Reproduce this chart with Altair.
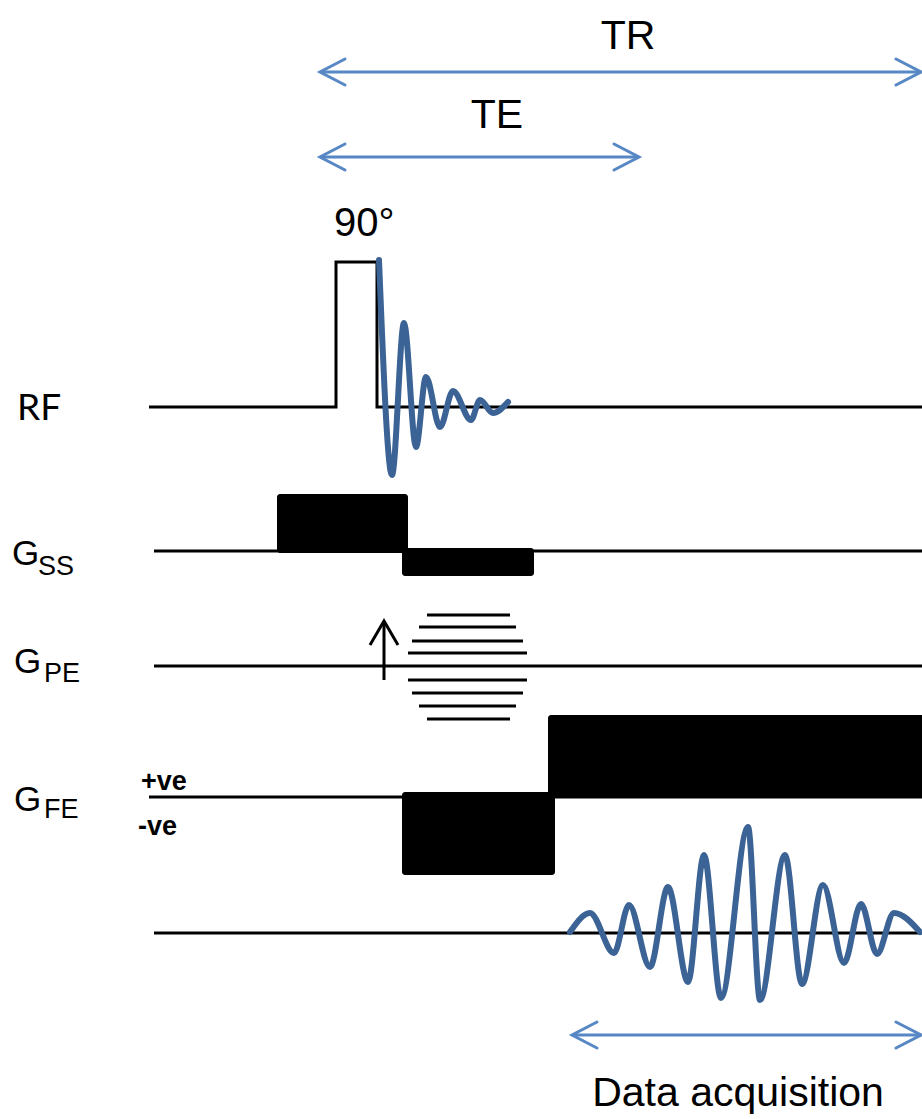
import altair as alt
import pandas as pd

W, H = 922, 1119

# ---- layout units (x = time along the sequence, y = row position, top-down) ----
xs = alt.Scale(domain=[0, W], nice=False, zero=False)
ys = alt.Scale(domain=[0, H], nice=False, zero=False, reverse=True)

# Channel baselines (gradient rows and the signal row)
base_name = ["GSS", "GPE", "GFE", "SIG"]
base_y = [551, 666, 797, 933]
base_x0 = [154, 154, 149, 154]
base_x1 = [922, 922, 922, 922]

# RF row: baseline with the 90° block pulse
rf_y = 407
rf_x0, rf_x1 = 149, 922
rf_pulse_start, rf_pulse_end, rf_pulse_top = 336, 377, 262

# Gradient lobes (filled blocks)
lobe_name = ["ss_pos", "ss_neg", "fe_neg", "fe_pos"]
lobe_x0 = [277, 402, 402, 548]
lobe_x1 = [408, 534, 555, 926]
lobe_top = [494, 548, 792, 715]
lobe_bot = [553, 576, 875, 798]

# Phase-encode table steps
pe_y = [615, 627, 641, 653, 680, 693, 706, 719]
pe_x0 = [427, 419, 412, 408, 408, 412, 419, 427]
pe_x1 = [510, 516, 523, 527, 527, 523, 516, 510]

# Phase-encode stepping arrow
pe_arrow_x, pe_arrow_y0, pe_arrow_tip = 384, 680, 621
pe_head_dx, pe_head_dy = 14, 24

# Free induction decay after the pulse (turning points)
fid_x = [379, 392, 404, 416, 426, 440, 453, 471, 480, 493, 508]
fid_y = [260, 475, 323, 447, 377, 427, 391, 420, 400, 413, 402]

# Gradient echo read during acquisition (turning points)
echo_x = [570, 590, 614, 629, 650, 668, 688, 704, 721, 748, 760,
          785, 802, 823, 844, 861, 877, 894, 920]
echo_y = [932, 913, 953, 905, 967, 887, 982, 855, 998, 827, 1000,
          855, 984, 885, 963, 904, 954, 913, 932]

# Timing spans (double-headed arrows)
span_name = ["TR", "TE", "Data acquisition"]
span_x0 = [320, 320, 572]
span_x1 = [921, 639, 921]
span_y = [72, 157, 1035]
head_dx, head_dy = 25, 13

BLACK = "#000000"
WAVE = "#3b6395"
SPAN = "#5787c4"
FONT = "Liberation Sans"

# ---- tables ----
rules = pd.DataFrame({"name": base_name, "y": base_y, "x0": base_x0, "x1": base_x1})

rf_px = [rf_x0, rf_pulse_start, rf_pulse_start, rf_pulse_end, rf_pulse_end, rf_x1]
rf_py = [rf_y, rf_y, rf_pulse_top, rf_pulse_top, rf_y, rf_y]
rf = pd.DataFrame({"x": rf_px, "y": rf_py, "i": range(len(rf_px))})

lobes = pd.DataFrame({"name": lobe_name, "x0": lobe_x0, "x1": lobe_x1,
                      "y0": lobe_top, "y1": lobe_bot})

pe = pd.DataFrame({"y": pe_y, "x0": pe_x0, "x1": pe_x1})

pe_shaft = pd.DataFrame({"x": [pe_arrow_x], "y0": [pe_arrow_y0], "y1": [pe_arrow_tip]})
pe_head = pd.DataFrame({
    "x": [pe_arrow_x - pe_head_dx, pe_arrow_x, pe_arrow_x + pe_head_dx],
    "y": [pe_arrow_tip + pe_head_dy, pe_arrow_tip, pe_arrow_tip + pe_head_dy],
    "i": [0, 1, 2],
})

fid = pd.DataFrame({"x": fid_x, "y": fid_y, "i": range(len(fid_x))})
echo = pd.DataFrame({"x": echo_x, "y": echo_y, "i": range(len(echo_x))})

spans = pd.DataFrame({"name": span_name, "x0": span_x0, "x1": span_x1, "y": span_y})
heads = []
for n, a, b, y in zip(span_name, span_x0, span_x1, span_y):
    for side, tip, d in (("L", a, head_dx), ("R", b, -head_dx)):
        for i, (hx, hy) in enumerate([(tip + d, y - head_dy), (tip, y), (tip + d, y + head_dy)]):
            heads.append({"key": f"{n}-{side}", "i": i, "x": hx, "y": hy})
heads = pd.DataFrame(heads)

# ---- marks ----
def X(f="x"):
    return alt.X(f"{f}:Q", scale=xs, axis=None)

def Y(f="y"):
    return alt.Y(f"{f}:Q", scale=ys, axis=None)

base_layer = alt.Chart(rules).mark_rule(color=BLACK, strokeWidth=3).encode(
    x=X("x0"), x2="x1:Q", y=Y("y"))

rf_layer = alt.Chart(rf).mark_line(color=BLACK, strokeWidth=3, strokeJoin="miter").encode(
    x=X(), y=Y(), order="i:Q")

lobe_layer = alt.Chart(lobes).mark_rect(color=BLACK, cornerRadius=3).encode(
    x=X("x0"), x2="x1:Q", y=Y("y0"), y2="y1:Q")

pe_layer = alt.Chart(pe).mark_rule(color=BLACK, strokeWidth=3).encode(
    x=X("x0"), x2="x1:Q", y=Y("y"))

pe_shaft_layer = alt.Chart(pe_shaft).mark_rule(color=BLACK, strokeWidth=3).encode(
    x=X("x"), y=Y("y0"), y2="y1:Q")

pe_head_layer = alt.Chart(pe_head).mark_line(color=BLACK, strokeWidth=3).encode(
    x=X(), y=Y(), order="i:Q")

fid_layer = alt.Chart(fid).mark_line(
    color=WAVE, strokeWidth=6, interpolate="monotone", strokeCap="round",
    strokeJoin="round").encode(x=X(), y=Y(), order="i:Q")

echo_layer = alt.Chart(echo).mark_line(
    color=WAVE, strokeWidth=6, interpolate="monotone", strokeCap="round",
    strokeJoin="round").encode(x=X(), y=Y(), order="i:Q")

span_layer = alt.Chart(spans).mark_rule(color=SPAN, strokeWidth=3).encode(
    x=X("x0"), x2="x1:Q", y=Y("y"))

head_layer = alt.Chart(heads).mark_line(
    color=SPAN, strokeWidth=3, strokeCap="round").encode(
    x=X(), y=Y(), detail="key:N", order="i:Q")

# ---- text ----
def text_layer(rows, size, align="left", font=FONT, weight="normal"):
    df = pd.DataFrame(rows, columns=["x", "y", "t"])
    return alt.Chart(df).mark_text(
        font=font, fontSize=size, align=align, baseline="alphabetic",
        color=BLACK, fontWeight=weight).encode(x=X(), y=Y(), text="t:N")

big_labels = text_layer([(628, 49, "TR"), (497, 128, "TE"),
                         (738, 1106, "Data acquisition")], 41, align="center")
pulse_label = text_layer([(334, 236, "90°")], 40)
rf_label = text_layer([(17, 420, "RF")], 37, font="Lato")
g_labels = text_layer([(12, 565, "G"), (14, 673, "G"), (14, 811, "G")], 35)
g_subs = text_layer([(38, 575, "SS"), (44, 682, "PE"), (44, 818, "FE")], 27)
sign_labels = text_layer([(141, 790, "+ve"), (138, 835, "-ve")], 27, weight="bold")

chart = alt.layer(
    base_layer, rf_layer, lobe_layer, pe_layer, pe_shaft_layer, pe_head_layer,
    fid_layer, echo_layer, span_layer, head_layer,
    big_labels, pulse_label, rf_label, g_labels, g_subs, sign_labels,
).properties(
    width=W, height=H, padding=0, autosize="none", background="white",
).configure_view(stroke=None)

chart.save("out.html", embed_options={"renderer": "svg", "actions": False})
